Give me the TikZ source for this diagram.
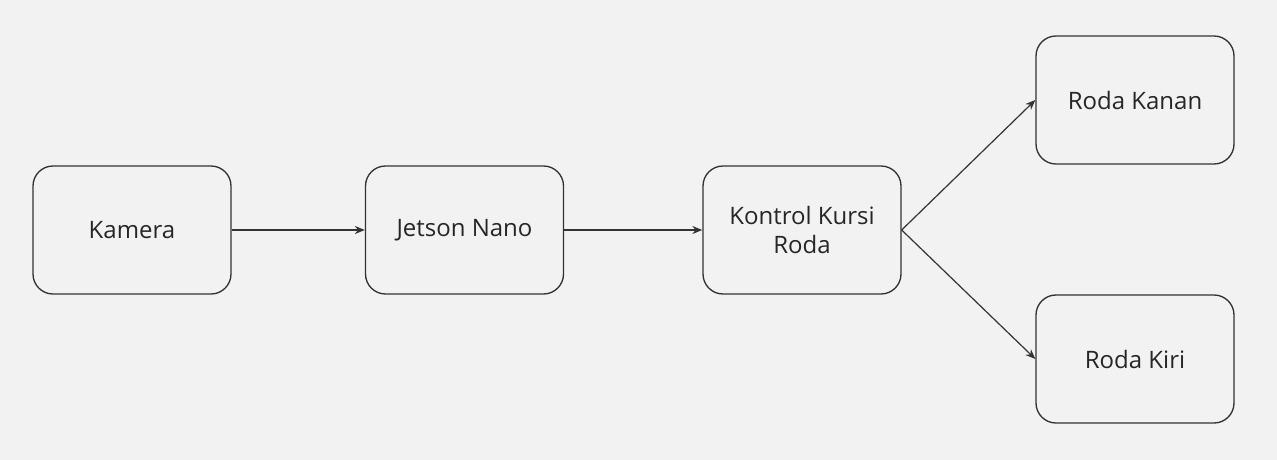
\documentclass[tikz,border=0pt]{standalone}
\usepackage{fontspec}
\setmainfont{Open Sans}
\usetikzlibrary{arrows.meta}

\tikzset{
    blok/.style={draw=black!80, fill=none, rounded corners=15pt, line width=1pt,
        minimum width=148.5pt, minimum height=96pt, align=center, inner sep=0pt,
        font=\fontsize{18}{22}\selectfont, text=black!85},
    panah/.style={draw=black!80, line width=0.9pt, -{Stealth[length=7.5pt,width=6pt]}}
}

\begin{document}
\begin{tikzpicture}[x=0.75pt,y=0.75pt,yscale=-1,xscale=1]
    % background
    \fill[fill={rgb,255:red,242;green,242;blue,242}] (0,0) rectangle (1277,460);
    \useasboundingbox (0,0) rectangle (1277,460);
    
    % Blocks
    \node[blok] (kamera) at (132,230) {Kamera};
    \node[blok] (jetson) at (464.5,230) {Jetson Nano};
    \node[blok] (kontrol) at (802,230) {Kontrol Kursi\\Roda};
    \node[blok] (kanan) at (1135,100) {Roda Kanan};
    \node[blok] (kiri) at (1135,359) {Roda Kiri};
    
    % Arrows
    \draw[panah] (kamera) -- (jetson);
    \draw[panah] (jetson) -- (kontrol);
    \draw[panah] (kontrol.east) -- (kanan.west);
    \draw[panah] (kontrol.east) -- (kiri.west);
    
\end{tikzpicture}
\end{document}
